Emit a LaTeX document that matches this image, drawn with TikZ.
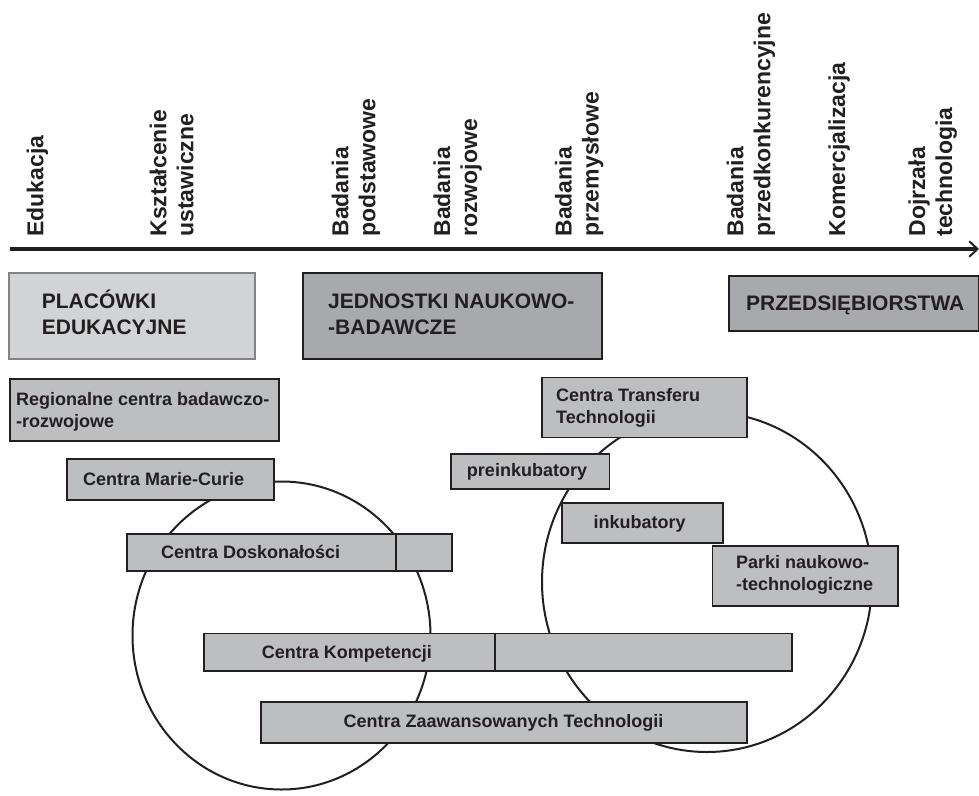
\documentclass[tikz,border=0pt]{standalone}
\usepackage{fontspec}
\setmainfont{Liberation Sans}
\definecolor{ink}{HTML}{231F20}
\definecolor{lightfill}{HTML}{D1D3D4}
\definecolor{lightline}{HTML}{808285}
\definecolor{midfill}{HTML}{A7A9AC}
\definecolor{smallfill}{HTML}{BCBEC0}
\begin{document}
\begin{tikzpicture}[x=1pt,y=-1pt,
  lab/.style={rotate=90, anchor=base west, inner sep=0pt, text=ink,
    font=\bfseries\fontsize{23}{27}\selectfont},
  bigbox/.style={rectangle, anchor=north west, inner sep=0pt, draw=ink, fill=midfill, line width=1.5pt},
  edubox/.style={rectangle, anchor=north west, inner sep=0pt, draw=lightline, fill=lightfill, line width=1.5pt},
  smallbox/.style={rectangle, anchor=north west, inner sep=0pt, draw=ink, fill=smallfill, line width=1.5pt},
  bigtxt/.style={inner sep=0pt, text=ink, font=\bfseries\fontsize{21}{26}\selectfont},
  smalltxt/.style={inner sep=0pt, text=ink, font=\bfseries\fontsize{18}{22}\selectfont},
  ring/.style={draw=ink, line width=2pt}
]
\useasboundingbox (0,0) rectangle (979,795);

% axis
\coordinate (axL) at (10,249);
\coordinate (axR) at (976,249);
\coordinate (tipT) at (969.5,241.5);
\coordinate (tipP) at (977.5,249);
\coordinate (tipB) at (969.5,256.5);
\draw[line width=4pt, ink] (axL) -- (axR);
\draw[line width=2pt, ink, line cap=round] (tipT) -- (tipP) -- (tipB);

% axis labels
\node[lab] (l1) at (43.3,236.7) {Edukacja};
\node[lab] (l2) at (193.3,236.7) {\begin{tabular}[b]{@{}l@{}}Kształcenie\\ustawiczne\end{tabular}};
\node[lab] (l3) at (375.3,236.7) {\begin{tabular}[b]{@{}l@{}}Badania\\podstawowe\end{tabular}};
\node[lab] (l4) at (477,236.7) {\begin{tabular}[b]{@{}l@{}}Badania\\rozwojowe\end{tabular}};
\node[lab] (l5) at (598.7,236.7) {\begin{tabular}[b]{@{}l@{}}Badania\\przemysłowe\end{tabular}};
\node[lab] (l6) at (770.3,236.7) {\begin{tabular}[b]{@{}l@{}}Badania\\przedkonkurencyjne\end{tabular}};
\node[lab] (l7) at (845,236.7) {Komercjalizacja};
\node[lab] (l8) at (952,236.7) {\begin{tabular}[b]{@{}l@{}}Dojrzała\\technologia\end{tabular}};

% circles
\draw[ring] (281.5,635.5) ellipse [x radius=149, y radius=154];
\draw[ring] (707,582) ellipse [x radius=165, y radius=170];

% big boxes
\node[edubox, minimum width=246, minimum height=86] (plac) at (8,272) {};
\node[bigtxt, anchor=base west] (placT) at (41.7,308.3) {\begin{tabular}[t]{@{}l@{}}PLACÓWKI\\EDUKACYJNE\end{tabular}};
\node[bigbox, minimum width=299, minimum height=86] (jed) at (302,272) {};
\node[bigtxt, anchor=base west] (jedT) at (328,308.3) {\begin{tabular}[t]{@{}l@{}}JEDNOSTKI NAUKOWO-\\-BADAWCZE\end{tabular}};
\node[bigbox, minimum width=250, minimum height=55] (prz) at (728,275) {};
\node[bigtxt, anchor=base west] (przT) at (746,310) {PRZEDSIĘBIORSTWA};

% small boxes
\node[smallbox, minimum width=269, minimum height=62] (reg) at (9,378) {};
\node[smalltxt, anchor=base west] (regT) at (16,405) {\begin{tabular}[t]{@{}l@{}}Regionalne centra badawczo-\\-rozwojowe\end{tabular}};

\node[smallbox, minimum width=207, minimum height=41] (mc) at (66,458.3) {};
\node[smalltxt, anchor=base west] (mcT) at (83,485) {Centra Marie-Curie};

\node[smallbox, minimum width=269, minimum height=37] (dosk) at (126,533) {};
\node[smallbox, minimum width=56, minimum height=37] (doskx) at (395,533) {};
\node[smalltxt, anchor=base west] (doskT) at (161,558.3) {Centra Doskonałości};

\node[smallbox, minimum width=291, minimum height=37.5] (komp) at (203,632.5) {};
\node[smallbox, minimum width=297, minimum height=37.5] (kompx) at (494,632.5) {};
\node[smalltxt, anchor=base] (kompT) at (347,658.5) {Centra Kompetencji};

\node[smallbox, minimum width=486, minimum height=41] (zaaw) at (260,701) {};
\node[smalltxt, anchor=base] (zaawT) at (503.5,727.8) {Centra Zaawansowanych Technologii};

\node[smallbox, minimum width=205, minimum height=60] (ctt) at (541,376.7) {};
\node[smalltxt, anchor=base west] (cttT) at (556,401.7) {\begin{tabular}[t]{@{}l@{}}Centra Transferu\\Technologii\end{tabular}};

\node[smallbox, minimum width=158.5, minimum height=35] (prei) at (450,453) {};
\node[smalltxt, anchor=base] (preiT) at (527,476.8) {preinkubatory};

\node[smallbox, minimum width=161, minimum height=40] (inku) at (561,502) {};
\node[smalltxt, anchor=base] (inkuT) at (639.5,528.4) {inkubatory};

\node[smallbox, minimum width=185.5, minimum height=60] (park) at (711.5,545) {};
\node[smalltxt, anchor=base west] (parkT) at (736,568.6) {\begin{tabular}[t]{@{}l@{}}Parki naukowo-\\-technologiczne\end{tabular}};
\end{tikzpicture}
\end{document}
